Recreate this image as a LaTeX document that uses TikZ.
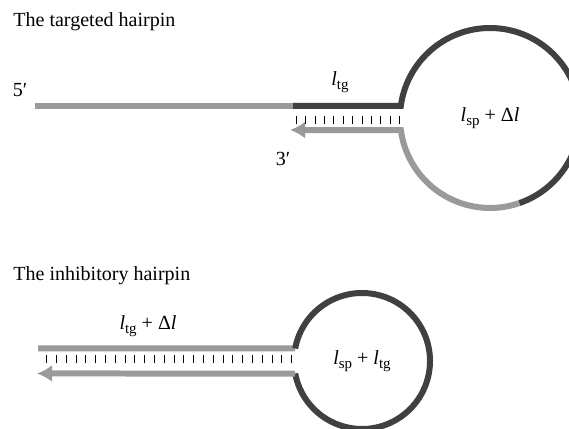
\documentclass[tikz,border=0pt]{standalone}
\usepackage{fontspec}
\setmainfont{Liberation Serif}
\usetikzlibrary{arrows.meta}
\definecolor{HPDark}{HTML}{404040}
\definecolor{HPGray}{HTML}{9A9A9A}
\newcommand{\lsub}[1]{\textit{l}\raisebox{-0.4ex}{\fontsize{8.5pt}{9pt}\selectfont #1}}

\begin{document}
\begin{tikzpicture}[x=1cm,y=1cm,
  strand/.style={line width=0.12cm},
  bp/.style={line width=0.5pt},
  lbl/.style={font=\fontsize{11.4pt}{13pt}\selectfont,inner sep=0pt}]
\clip (0,0) rectangle (11.38,8.58);
% targeted hairpin
\node[lbl,anchor=base west] (ttitle) at (0.26,8.04) {The targeted hairpin};
\coordinate (tc) at (9.80,6.22);
\coordinate (t5) at (0.70,6.46);
\coordinate (tsplit) at (5.86,6.46);
\coordinate (ttop) at ([shift={(172.3:1.80)}]tc);
\coordinate (tbot) at ([shift={(187.7:1.80)}]tc);
\coordinate (t3) at (5.80,5.98);
\draw[strand,HPGray] (t5) -- (tsplit);
\draw[strand,HPDark] (tsplit) -- (ttop) arc[start angle=172.3,end angle=-71,radius=1.80] coordinate (tmix);
\draw[strand,HPGray,-{Latex[length=0.3cm,width=0.34cm]}] (tmix) arc[start angle=-71,end angle=-172.3,radius=1.80] -- (t3);
\foreach \i in {0,...,11} \draw[bp] ({5.93+0.187*\i},6.10) -- ++(0,0.16);
\node[lbl] (t5lbl) at (0.40,6.78) {5′};
\node[lbl] (t3lbl) at (5.66,5.40) {3′};
\node[lbl] (ttglbl) at (6.80,6.94) {\lsub{tg}};
\node[lbl] (tlooplbl) at (tc) {\lsub{sp} + Δ\textit{l}};
% inhibitory hairpin
\node[lbl,anchor=base west] (ititle) at (0.26,2.96) {The inhibitory hairpin};
\coordinate (ic) at (7.24,1.36);
\coordinate (itop) at ([shift={(169.4:1.36)}]ic);
\coordinate (ibot) at ([shift={(190.6:1.36)}]ic);
\coordinate (i5) at (0.76,1.61);
\coordinate (i3) at (0.74,1.11);
\draw[strand,HPGray] (i5) -- (itop);
\draw[strand,HPDark] (itop) arc[start angle=169.4,end angle=-169.4,radius=1.36];
\draw[strand,HPGray,-{Latex[length=0.3cm,width=0.34cm]}] (ibot) -- (i3);
\foreach \i in {0,...,25} \draw[bp] ({0.934+0.196*\i},1.31) -- ++(0,0.16);
\node[lbl] (itglbl) at (2.96,2.06) {\lsub{tg} + Δ\textit{l}};
\node[lbl] (ilooplbl) at (ic) {\lsub{sp} + \lsub{tg}};
\end{tikzpicture}
\end{document}
